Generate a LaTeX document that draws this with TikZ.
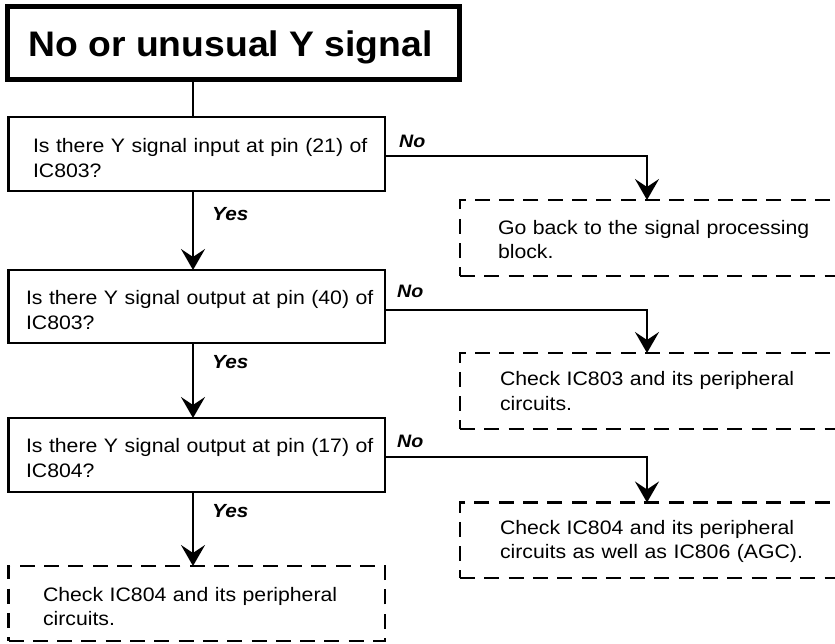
\documentclass[tikz,border=0pt]{standalone}
\usepackage{fontspec}
\setmainfont{Liberation Sans}[FakeStretch=1.09]
\newfontfamily\titlefont{Liberation Sans}[FakeStretch=1.05]
\usetikzlibrary{arrows.meta}
\begin{document}
\begin{tikzpicture}[x=1pt,y=-1pt,
  qbox/.style={draw, line width=2.6pt, rectangle, inner sep=0pt, outer sep=0pt},
  dbox/.style={draw, line width=2.7pt, rectangle, dash pattern=on 15pt off 9.3pt, inner sep=0pt, outer sep=0pt},
  conn/.style={line width=2.6pt},
  arr/.style={conn, -{Stealth[length=21pt,width=24pt,inset=8pt]}},
  txt/.style={anchor=base west, inner sep=0pt, outer sep=0pt, align=left, text width=420pt},
  lbl/.style={anchor=base west, inner sep=0pt, font=\bfseries\itshape\fontsize{18}{20}\selectfont},
  ylbl/.style={anchor=base west, inner sep=0pt, font=\bfseries\itshape\fontsize{19}{21}\selectfont}
]
\useasboundingbox (0,0) rectangle (835,644);
\clip (0,0) rectangle (835,644);

% boxes
\node[draw, line width=5pt, inner sep=0pt, outer sep=0pt, minimum width=452pt, minimum height=73pt] (title) at (233.5,43) {};
\node[qbox, minimum width=376.5pt, minimum height=74pt] (q1) at (196.75,154) {};
\node[qbox, minimum width=376.5pt, minimum height=73pt] (q2) at (196.75,306.5) {};
\node[qbox, minimum width=376.5pt, minimum height=74pt] (q3) at (196.75,455) {};
\node[dbox, minimum width=376.5pt, minimum height=75pt] (d4) at (196.75,603.5) {};
\node[dbox, minimum width=390pt, minimum height=76pt] (d1) at (655,238) {};
\node[dbox, minimum width=390pt, minimum height=76pt] (d2) at (655,391) {};
\node[dbox, minimum width=390pt, minimum height=75.5pt] (d3) at (655,540.25) {};

% texts
\node[anchor=base, inner sep=0pt] (titletxt) at (230.5,57) {\titlefont\bfseries\fontsize{35.5}{40}\selectfont No or unusual Y signal};
\node[txt, font=\fontsize{19.5}{25}\selectfont] (q1t) at (33,153) {Is there Y signal input at pin (21) of\\IC803?};
\node[txt, font=\fontsize{19.5}{25}\selectfont] (q2t) at (26,304.5) {Is there Y signal output at pin (40) of\\IC803?};
\node[txt, font=\fontsize{19.5}{24.3}\selectfont] (q3t) at (26,452.7) {Is there Y signal output at pin (17) of\\IC804?};
\node[txt, font=\fontsize{19.5}{23.5}\selectfont] (d1t) at (498,235) {Go back to the signal processing\\block.};
\node[txt, font=\fontsize{19.5}{25}\selectfont] (d2t) at (500,385) {Check IC803 and its peripheral\\circuits.};
\node[txt, font=\fontsize{19.5}{24}\selectfont] (d3t) at (500,534) {Check IC804 and its peripheral\\circuits as well as IC806 (AGC).};
\node[txt, font=\fontsize{19.5}{23.5}\selectfont] (d4t) at (43,601.7) {Check IC804 and its peripheral\\circuits.};

% labels
\node[lbl] (no1) at (399,147.5) {No};
\node[lbl] (no2) at (397,298) {No};
\node[lbl] (no3) at (397,447) {No};
\node[ylbl] (yes1) at (212,220.7) {Yes};
\node[ylbl] (yes2) at (212,368.3) {Yes};
\node[ylbl] (yes3) at (212,517.3) {Yes};

% connector guides
\coordinate (cx) at (193,0);
\coordinate (bx) at (647,0);
\coordinate (y1) at (0,156);
\coordinate (y2) at (0,310);
\coordinate (y3) at (0,457);

% connectors
\draw[conn] (title.south -| cx) -- (q1.north -| cx);
\draw[arr] (q1.south -| cx) -- (q2.north -| cx);
\draw[arr] (q2.south -| cx) -- (q3.north -| cx);
\draw[arr] (q3.south -| cx) -- (d4.north -| cx);
\draw[arr] (q1.east |- y1) -| (d1.north -| bx);
\draw[arr] (q2.east |- y2) -| (d2.north -| bx);
\draw[arr] (q3.east |- y3) -| (d3.north -| bx);
\end{tikzpicture}
\end{document}
